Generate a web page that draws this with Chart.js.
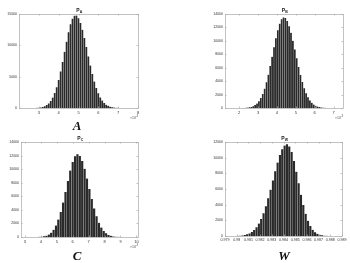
<!DOCTYPE html>
<html>
<head>
<meta charset="utf-8">
<script src="https://cdn.jsdelivr.net/npm/chart.js@4.4.1/dist/chart.umd.min.js"></script>
<style>
  html, body { margin: 0; padding: 0; background: #fff; }
  body { width: 350px; height: 263px; position: relative; overflow: hidden; }
  .q { position: absolute; }
  .big { position: absolute; font: italic bold 13px "Liberation Serif", serif; color: #111; transform: translateX(-50%); line-height: 1; }
</style>
</head>
<body>
<div class="q" style="left:0;top:0;width:175px;height:130px"><canvas id="cA"></canvas></div>
<div class="q" style="left:175px;top:0;width:175px;height:130px"><canvas id="cB"></canvas></div>
<div class="q" style="left:0;top:130px;width:175px;height:133px"><canvas id="cC"></canvas></div>
<div class="q" style="left:175px;top:130px;width:175px;height:133px"><canvas id="cD"></canvas></div>
<div class="big" style="left:77px;top:119px">A</div>
<div class="big" style="left:77px;top:249px">C</div>
<div class="big" style="left:284px;top:249px">W</div>
<script>
// histogram bin centres (x10^-3 for A, B, C) and counts
const binsA = [2.8, 2.9, 3.0, 3.1, 3.2, 3.3, 3.4, 3.5, 3.6, 3.7, 3.8, 3.9, 4.0, 4.1, 4.2, 4.3, 4.4, 4.5, 4.6, 4.7, 4.8, 4.9,
               5.0, 5.1, 5.2, 5.3, 5.4, 5.5, 5.6, 5.7, 5.8, 5.9, 6.0, 6.1, 6.2, 6.3, 6.4, 6.5, 6.6, 6.7, 6.8, 6.9, 7.0, 7.1];
const countsA = [15, 30, 52, 95, 165, 280, 460, 730, 1120, 1660, 2390, 3330, 4480, 5840, 7360, 8980, 10590, 12090, 13350, 14260, 14740, 14750,
                 14340, 13570, 12490, 11170, 9720, 8230, 6780, 5430, 4230, 3200, 2360, 1690, 1180, 800, 525, 340, 210, 128, 76, 43, 24, 13];

const binsB = [2.25, 2.35, 2.45, 2.55, 2.65, 2.75, 2.85, 2.95, 3.05, 3.15, 3.25, 3.35, 3.45, 3.55, 3.65, 3.75, 3.85, 3.95, 4.05, 4.15, 4.25, 4.35, 4.45,
               4.55, 4.65, 4.75, 4.85, 4.95, 5.05, 5.15, 5.25, 5.35, 5.45, 5.55, 5.65, 5.75, 5.85, 5.95, 6.05, 6.15, 6.25, 6.35, 6.45, 6.55, 6.65];
const countsB = [16, 31, 56, 98, 166, 275, 435, 670, 1010, 1480, 2090, 2880, 3840, 4970, 6250, 7620, 9030, 10390, 11590, 12560, 13210, 13490, 13390,
                 12940, 12190, 11190, 10000, 8720, 7400, 6120, 4930, 3870, 2960, 2210, 1600, 1130, 780, 525, 344, 219, 136, 82, 48, 28, 15];

const binsC = [3.9, 4.05, 4.2, 4.35, 4.5, 4.65, 4.8, 4.95, 5.1, 5.25, 5.4, 5.55, 5.7, 5.85, 6.0, 6.15, 6.3,
               6.45, 6.6, 6.75, 6.9, 7.05, 7.2, 7.35, 7.5, 7.65, 7.8, 7.95, 8.1, 8.25, 8.4, 8.55, 8.7, 8.85];
const countsC = [24, 51, 104, 200, 370, 640, 1070, 1700, 2570, 3700, 5080, 6640, 8270, 9800, 11070, 11910, 12200,
                 11940, 11190, 10040, 8620, 7090, 5590, 4210, 3040, 2100, 1390, 880, 540, 310, 173, 92, 46, 22];

const binsW = [0.9801, 0.9803, 0.9805, 0.9807, 0.9809, 0.9811, 0.9813, 0.9815, 0.9817, 0.9819, 0.9821, 0.9823, 0.9825, 0.9827,
               0.9829, 0.9831, 0.9833, 0.9835, 0.9837, 0.9839, 0.9841, 0.9843, 0.9845, 0.9847, 0.9849, 0.9851, 0.9853, 0.9855,
               0.9857, 0.9859, 0.9861, 0.9863, 0.9865, 0.9867, 0.9869, 0.9871, 0.9873, 0.9875, 0.9877];
const countsW = [25, 45, 78, 130, 211, 334, 514, 770, 1120, 1580, 2180, 2920, 3800, 4810,
                 5920, 7100, 8270, 9370, 10330, 11070, 11540, 11700, 11440, 10710, 9580, 8210, 6720, 5270,
                 3950, 2830, 1940, 1280, 800, 481, 277, 152, 80, 40, 19];

// tick values
const xTicksA = [3, 4, 5, 6, 7, 8];
const yTicksA = [0, 5000, 10000, 15000];
const xTicksB = [2, 3, 4, 5, 6, 7];
const yTicksB = [0, 2000, 4000, 6000, 8000, 10000, 12000, 14000];
const xTicksC = [3, 4, 5, 6, 7, 8, 9, 10];
const yTicksC = [0, 2000, 4000, 6000, 8000, 10000, 12000, 14000];
const xTicksW = [0.979, 0.98, 0.981, 0.982, 0.983, 0.984, 0.985, 0.986, 0.987, 0.988, 0.989];
const yTicksW = [0, 2000, 4000, 6000, 8000, 10000, 12000];

const sans = '"Liberation Sans", Arial, sans-serif';

// frame, inward ticks, title P_x and x10^-3 note, matlab style
const boxPlugin = {
  id: 'matlabBox',
  afterDraw(chart, args, o) {
    const ctx = chart.ctx, a = chart.chartArea;
    const xs = chart.scales.x, ys = chart.scales.y;
    ctx.save();
    ctx.strokeStyle = '#a8a8a8';
    ctx.lineWidth = 0.7;
    ctx.strokeRect(Math.round(a.left) + 0.5, Math.round(a.top) + 0.5, Math.round(a.right - a.left), Math.round(a.bottom - a.top));
    ctx.beginPath();
    xs.ticks.forEach(t => {
      const px = Math.round(xs.getPixelForValue(t.value)) + 0.5;
      ctx.moveTo(px, a.bottom); ctx.lineTo(px, a.bottom - 1.5);
      ctx.moveTo(px, a.top); ctx.lineTo(px, a.top + 1.5);
    });
    ys.ticks.forEach(t => {
      const py = Math.round(ys.getPixelForValue(t.value)) + 0.5;
      ctx.moveTo(a.left, py); ctx.lineTo(a.left + 1.5, py);
      ctx.moveTo(a.right, py); ctx.lineTo(a.right - 1.5, py);
    });
    ctx.stroke();

    // title
    const cx = (a.left + a.right) / 2;
    ctx.fillStyle = '#222';
    ctx.textBaseline = 'alphabetic';
    ctx.font = 'bold 5px ' + sans;
    ctx.textAlign = 'right';
    ctx.fillText('P', cx + 1, a.top - 2.5);
    ctx.font = 'bold 3.5px ' + sans;
    ctx.textAlign = 'left';
    ctx.fillText(o.sub, cx + 1.2, a.top - 1);

    // exponent note
    if (o.exp) {
      ctx.fillStyle = '#555';
      ctx.font = '3.5px ' + sans;
      ctx.textAlign = 'left';
      ctx.fillText('\u00d710', a.right - 8, a.bottom + 10.5);
      ctx.font = '2.8px ' + sans;
      ctx.fillText('-3', a.right - 2.5, a.bottom + 8.8);
    }
    ctx.restore();
  }
};

function histChart(id, bins, counts, p) {
  const w = p.w, h = p.h;
  new Chart(document.getElementById(id), {
    type: 'bar',
    data: {
      datasets: [{
        data: bins.map((b, i) => ({ x: b, y: counts[i] })),
        backgroundColor: '#2a2a2a',
        borderColor: 'rgba(200,200,200,0.3)',
        borderWidth: { left: 0, top: 0, bottom: 0, right: 0.5 },
        borderSkipped: false,
        barPercentage: 1,
        categoryPercentage: 1
      }]
    },
    options: {
      responsive: true,
      maintainAspectRatio: false,
      animation: false,
      layout: { padding: { left: 0, top: p.t, right: w - p.r, bottom: h - p.b - 10 } },
      plugins: {
        legend: { display: false },
        tooltip: { enabled: false },
        matlabBox: { sub: p.sub, exp: p.exp }
      },
      scales: {
        x: {
          type: 'linear',
          min: p.xMin, max: p.xMax,
          offset: false,
          afterBuildTicks: s => { s.ticks = p.xTicks.map(v => ({ value: v })); },
          afterFit: s => { s.height = 10; },
          ticks: {
            font: { family: sans, size: p.xFont }, color: '#333', padding: 2, maxRotation: 0, autoSkip: false,
            callback: v => String(+v.toFixed(3))
          },
          grid: { display: false, drawTicks: false },
          border: { display: false }
        },
        y: {
          min: 0, max: p.yMax,
          afterBuildTicks: s => { s.ticks = p.yTicks.map(v => ({ value: v })); },
          afterFit: s => { s.width = p.l; },
          ticks: { font: { family: sans, size: 3.5 }, color: '#333', padding: 2, callback: v => String(v) },
          grid: { display: false, drawTicks: false },
          border: { display: false }
        }
      }
    },
    plugins: [boxPlugin]
  });
}

histChart('cA', binsA, countsA, { w: 175, h: 130, l: 19, r: 138, t: 14, b: 108, xMin: 2, xMax: 8, yMax: 15000,
  xTicks: xTicksA, yTicks: yTicksA, sub: 'A', exp: true, xFont: 4 });
histChart('cB', binsB, countsB, { w: 175, h: 130, l: 50, r: 168, t: 14, b: 108, xMin: 1.25, xMax: 7.5, yMax: 14000,
  xTicks: xTicksB, yTicks: yTicksB, sub: 'B', exp: true, xFont: 4 });
histChart('cC', binsC, countsC, { w: 175, h: 133, l: 21, r: 138, t: 12, b: 107, xMin: 2.75, xMax: 10.1, yMax: 14000,
  xTicks: xTicksC, yTicks: yTicksC, sub: 'C', exp: true, xFont: 4 });
histChart('cD', binsW, countsW, { w: 175, h: 133, l: 50, r: 167, t: 12, b: 106, xMin: 0.979, xMax: 0.989, yMax: 12000,
  xTicks: xTicksW, yTicks: yTicksW, sub: 'W', exp: false, xFont: 3.6 });
</script>
</body>
</html>
